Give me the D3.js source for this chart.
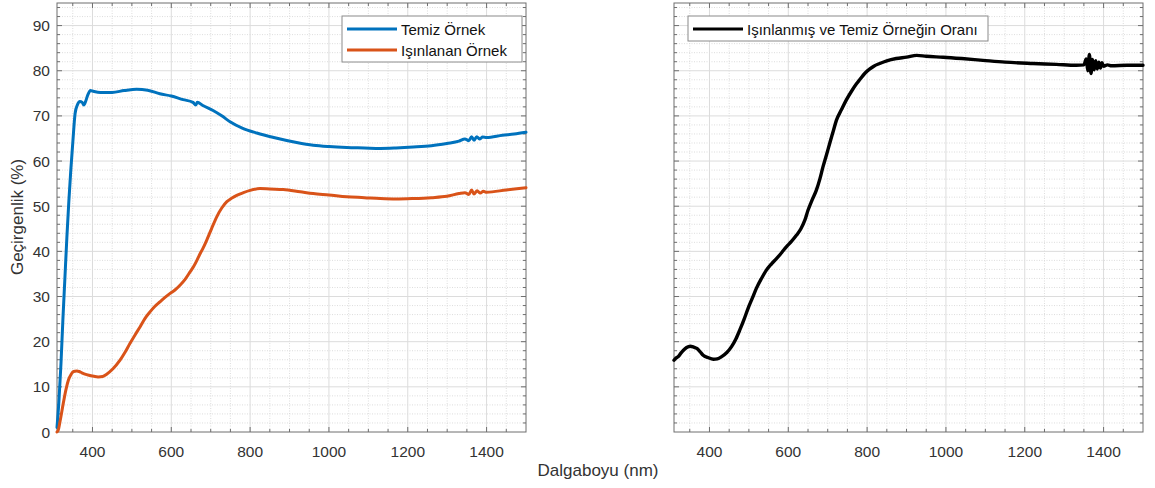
<!DOCTYPE html>
<html>
<head>
<meta charset="utf-8">
<script src="https://cdn.jsdelivr.net/npm/d3@7"></script>
<style>
  body { margin: 0; background: #fff; }
  svg text { font-family: "Liberation Sans", Arial, sans-serif; }
</style>
</head>
<body>
<div id="chart"></div>
<script>
const W = 1155, H = 488;

// wavelength (nm) and transmittance (%)
const cleanWl = [310, 315, 320, 325, 330, 335, 340, 345, 350, 356, 362, 368, 374, 378, 383, 388, 395, 400, 420, 450, 480, 512, 540, 571, 600, 630, 655, 662, 666, 680, 706, 730, 749, 780, 817, 860, 918, 960, 1000, 1045, 1090, 1130, 1170, 1214, 1260, 1299, 1330, 1345, 1355, 1362, 1368, 1375, 1382, 1390, 1400, 1440, 1470, 1500];
const cleanT = [1, 7, 15, 25, 34, 43, 51, 58, 64, 70.6, 72.5, 73.2, 73.0, 72.4, 73.3, 74.6, 75.6, 75.5, 75.2, 75.2, 75.6, 75.9, 75.7, 74.9, 74.4, 73.6, 73.0, 72.4, 73.0, 72.3, 71.2, 69.9, 68.7, 67.3, 66.2, 65.2, 64.1, 63.5, 63.2, 63.0, 62.9, 62.8, 62.9, 63.1, 63.4, 63.9, 64.4, 64.9, 64.5, 65.4, 64.6, 65.4, 64.9, 65.3, 65.2, 65.7, 66.0, 66.4];

const irrWl = [310, 313, 318, 326, 333, 339, 346, 352, 360, 366, 373, 385, 400, 415, 426, 436, 452, 470, 483, 495, 508, 521, 533, 546, 558, 571, 584, 597, 610, 622, 635, 648, 657, 665, 672, 680, 690, 702, 715, 728, 741, 754, 766, 783, 800, 825, 850, 884, 927, 960, 1000, 1045, 1090, 1130, 1170, 1214, 1260, 1299, 1330, 1345, 1355, 1362, 1368, 1376, 1384, 1392, 1400, 1450, 1500];
const irrT = [0, 0.4, 2.5, 6.4, 9.5, 11.5, 12.8, 13.4, 13.5, 13.4, 13.1, 12.7, 12.4, 12.2, 12.3, 12.8, 14.0, 15.9, 17.7, 19.6, 21.5, 23.3, 25.1, 26.6, 27.8, 28.8, 29.8, 30.7, 31.5, 32.5, 33.8, 35.5, 36.7, 38.0, 39.3, 40.6, 42.5, 45.0, 47.6, 49.6, 51.0, 51.8, 52.4, 53.0, 53.5, 53.9, 53.8, 53.7, 53.2, 52.8, 52.5, 52.1, 51.9, 51.7, 51.6, 51.7, 51.9, 52.2, 52.8, 53.0, 52.6, 53.6, 52.7, 53.4, 52.9, 53.3, 53.1, 53.6, 54.1];

const ratioWl = [310, 315, 321, 327, 334, 342, 351, 360, 368, 376, 384, 396, 410, 420, 431, 444, 456, 467, 477, 488, 498, 509, 519, 532, 544, 557, 570, 583, 595, 608, 621, 632, 642, 650, 660, 671, 680, 688, 697, 705, 714, 722, 735, 747, 760, 773, 781, 795, 807, 817, 832, 850, 874, 900, 926, 950, 993, 1040, 1094, 1150, 1221, 1280, 1331, 1350, 1356, 1360, 1364, 1368, 1372, 1376, 1380, 1384, 1388, 1392, 1396, 1400, 1410, 1420, 1460, 1500];
const ratioR = [15.9, 16.4, 16.7, 17.4, 18.1, 18.7, 19.0, 18.8, 18.5, 17.8, 17.0, 16.5, 16.1, 16.2, 16.7, 17.6, 18.9, 20.6, 22.6, 25.0, 27.4, 29.7, 31.8, 34.0, 35.8, 37.2, 38.4, 39.7, 41.0, 42.2, 43.6, 45.0, 46.9, 49.1, 51.3, 53.5, 56.0, 58.7, 61.4, 63.9, 66.6, 69.0, 71.4, 73.5, 75.4, 77.1, 78.0, 79.5, 80.4, 81.0, 81.6, 82.2, 82.7, 83.0, 83.4, 83.2, 83.0, 82.7, 82.3, 81.9, 81.6, 81.4, 81.2, 81.3, 82.6, 80.0, 83.6, 79.4, 82.5, 80.2, 82.2, 80.4, 81.9, 80.6, 81.8, 81.0, 81.3, 81.1, 81.2, 81.2];

const xTicks = [400, 600, 800, 1000, 1200, 1400];
const yTicks = [0, 10, 20, 30, 40, 50, 60, 70, 80, 90];

const blue = "#0072BD", orange = "#D95319", black = "#000000";
const axisColor = "#6e6e6e", textColor = "#333333";

const svg = d3.select("#chart").append("svg")
  .attr("width", W).attr("height", H);

function panel(x0, x1, yTop, yBot, showYLabels) {
  const x = d3.scaleLinear().domain([310, 1500]).range([x0, x1]);
  const y = d3.scaleLinear().domain([0, 95]).range([yBot, yTop]);
  const g = svg.append("g");

  // minor grid
  const xMinor = d3.range(350, 1500, 50).filter(v => v % 200 !== 0);
  const yMinor = d3.range(2, 95, 2).filter(v => v % 10 !== 0);
  g.append("g").selectAll("line").data(xMinor).join("line")
    .attr("x1", d => x(d)).attr("x2", d => x(d))
    .attr("y1", yTop).attr("y2", yBot)
    .attr("stroke", "#d4d4d4").attr("stroke-dasharray", "1,1.5").attr("stroke-width", 0.8);
  g.append("g").selectAll("line").data(yMinor).join("line")
    .attr("y1", d => y(d)).attr("y2", d => y(d))
    .attr("x1", x0).attr("x2", x1)
    .attr("stroke", "#d4d4d4").attr("stroke-dasharray", "1,1.5").attr("stroke-width", 0.8);

  // major grid
  g.append("g").selectAll("line").data(xTicks).join("line")
    .attr("x1", d => x(d)).attr("x2", d => x(d))
    .attr("y1", yTop).attr("y2", yBot)
    .attr("stroke", "#dcdcdc").attr("stroke-width", 1);
  g.append("g").selectAll("line").data(yTicks.filter(v => v > 0)).join("line")
    .attr("y1", d => y(d)).attr("y2", d => y(d))
    .attr("x1", x0).attr("x2", x1)
    .attr("stroke", "#dcdcdc").attr("stroke-width", 1);

  // ticks on all four sides, pointing in
  const tk = g.append("g").attr("stroke", axisColor).attr("stroke-width", 1);
  const xAll = d3.range(350, 1500, 50);
  const yAll = d3.range(2, 95, 2);
  xAll.forEach(v => {
    const len = v % 200 === 0 ? 5 : 3;
    tk.append("line").attr("x1", x(v)).attr("x2", x(v)).attr("y1", yBot).attr("y2", yBot - len);
    tk.append("line").attr("x1", x(v)).attr("x2", x(v)).attr("y1", yTop).attr("y2", yTop + len);
  });
  yAll.forEach(v => {
    const len = v % 10 === 0 ? 5 : 3;
    tk.append("line").attr("y1", y(v)).attr("y2", y(v)).attr("x1", x0).attr("x2", x0 + len);
    tk.append("line").attr("y1", y(v)).attr("y2", y(v)).attr("x1", x1).attr("x2", x1 - len);
  });

  // box
  g.append("rect").attr("x", x0).attr("y", yTop)
    .attr("width", x1 - x0).attr("height", yBot - yTop)
    .attr("fill", "none").attr("stroke", axisColor).attr("stroke-width", 1);

  // tick labels
  g.append("g").selectAll("text").data(xTicks).join("text")
    .attr("x", d => x(d)).attr("y", yBot + 25)
    .attr("text-anchor", "middle").attr("fill", textColor)
    .style("font-size", "15.5px").text(d => d);
  if (showYLabels) {
    g.append("g").selectAll("text").data(yTicks).join("text")
      .attr("x", x0 - 7).attr("y", d => y(d) + 5.5)
      .attr("text-anchor", "end").attr("fill", textColor)
      .style("font-size", "15.5px").text(d => d);
  }
  return { x, y, g };
}

function drawLine(p, wl, vals, color, w) {
  const pts = wl.map((d, i) => [d, vals[i]]);
  const line = d3.line().x(d => p.x(d[0])).y(d => p.y(d[1])).curve(d3.curveMonotoneX);
  p.g.append("path").datum(pts).attr("d", line)
    .attr("fill", "none").attr("stroke", color)
    .attr("stroke-width", w).attr("stroke-linejoin", "round").attr("stroke-linecap", "round");
}

function legend(p, x, y, w, items) {
  const rowH = 21;
  const lg = svg.append("g").attr("transform", `translate(${x},${y})`);
  lg.append("rect").attr("width", w).attr("height", items.length * rowH + 4)
    .attr("fill", "#fff").attr("stroke", "#8a8a8a").attr("stroke-width", 1);
  items.forEach((it, i) => {
    const cy = 13 + i * rowH;
    lg.append("line").attr("x1", 5).attr("x2", 55).attr("y1", cy).attr("y2", cy)
      .attr("stroke", it.color).attr("stroke-width", 3.2);
    lg.append("text").attr("x", 59).attr("y", cy + 5.5)
      .attr("fill", "#111").style("font-size", "15px").text(it.label);
  });
}

const left = panel(57, 526, 3, 432, true);
drawLine(left, cleanWl, cleanT, blue, 3);
drawLine(left, irrWl, irrT, orange, 3);
legend(left, 342, 16, 180, [
  { label: "Temiz Örnek", color: blue },
  { label: "Işınlanan Örnek", color: orange }
]);

const right = panel(674, 1143, 3, 432, false);
drawLine(right, ratioWl, ratioR, black, 3.4);
legend(right, 688, 16, 300, [
  { label: "Işınlanmış ve Temiz Örneğin Oranı", color: black }
]);

// axis titles
svg.append("text").attr("x", 598).attr("y", 476)
  .attr("text-anchor", "middle").attr("fill", textColor)
  .style("font-size", "17px").text("Dalgaboyu (nm)");
svg.append("text")
  .attr("transform", "translate(23,217) rotate(-90)")
  .attr("text-anchor", "middle").attr("fill", textColor)
  .style("font-size", "17px").text("Geçirgenlik (%)");
</script>
</body>
</html>
